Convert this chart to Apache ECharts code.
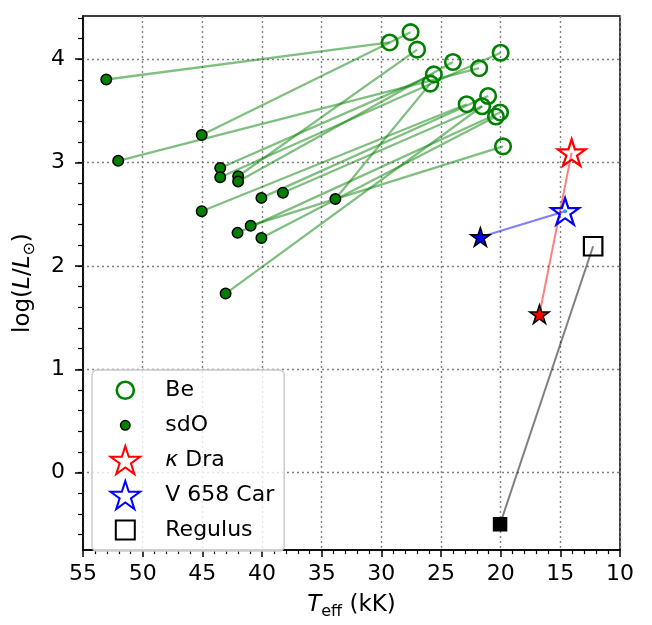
<!DOCTYPE html>
<html>
<head>
<meta charset="utf-8">
<script src="https://cdn.jsdelivr.net/npm/echarts@6/dist/echarts.min.js"></script>
<style>
  html, body { margin: 0; padding: 0; background: #fff; }
  #chart { width: 652px; height: 625px; }
</style>
</head>
<body>
<div id="chart"></div>
<script>
// Be stars (Teff in kK, log L/Lsun)
var beTeff = [29.3, 27.55, 27.0, 24.0, 25.6, 25.9, 21.8, 20.0, 22.85, 21.05, 21.55, 20.05, 20.4, 19.8];
var beLogL = [4.16, 4.26, 4.09, 3.97, 3.85, 3.76, 3.91, 4.06, 3.56, 3.64, 3.54, 3.48, 3.44, 3.15];
// sdO companions, and the index of the Be star each one belongs to
var sdoTeff = [53.05, 52.05, 45.05, 43.5, 43.5, 42.0, 42.0, 40.05, 38.25, 45.05, 40.95, 42.05, 40.05, 33.85, 43.05];
var sdoLogL = [3.80, 3.01, 3.26, 2.94, 2.85, 2.86, 2.81, 2.65, 2.70, 2.52, 2.38, 2.31, 2.26, 2.64, 1.72];
var sdoToBe = [0, 6, 1, 4, 7, 2, 3, 9, 10, 8, 13, 11, 12, 5, 10];
// [primary, companion]
var kapDraTeff = [14.05, 16.75];
var kapDraLogL = [3.09, 1.52];
var v658Teff = [14.6, 21.7];
var v658LogL = [2.52, 2.27];
var regulusTeff = [12.25, 20.05];
var regulusLogL = [2.18, -0.52];

var xMin = 10, xMax = 55;
var yMin = -0.772, yMax = 4.417;

var FONT = 'DejaVu Sans';
var FS = 22;
var plotTop = 16, plotBottom = 552.5;
function yPx(v) { return plotTop + (yMax - v) / (yMax - yMin) * (plotBottom - plotTop); }

function starPath(cx, cy, R) {
    var s = '';
    for (var k = 0; k < 10; k++) {
        var a = (-90 + 36 * k) * Math.PI / 180;
        var r = k % 2 ? R * 0.381966 : R;
        s += (k ? 'L' : 'M') + (cx + r * Math.cos(a)).toFixed(2) + ' ' + (cy + r * Math.sin(a)).toFixed(2);
    }
    return s + 'Z';
}
var STAR = 'path://' + starPath(0, 0, 1);
var BOX = 'path://M0 0M34 30';

var chart = echarts.init(document.getElementById('chart'));

var links = sdoTeff.map(function (t, i) {
    var b = sdoToBe[i];
    return { coords: [[t, sdoLogL[i]], [beTeff[b], beLogL[b]]] };
});

function pts(xs, ys) { return xs.map(function (x, i) { return [x, ys[i]]; }); }

function pair(name, xs, ys, color, symbol, openSize, fillSize) {
    return [{
        name: name + ' track', type: 'lines', coordinateSystem: 'cartesian2d', z: 5,
        data: [{ coords: [[xs[1], ys[1]], [xs[0], ys[0]]] }],
        lineStyle: { color: color, width: 2, opacity: 0.5 }
    }, {
        name: name, type: 'scatter', symbol: symbol, symbolSize: openSize, z: 6,
        itemStyle: { color: 'transparent', borderColor: color, borderWidth: 2.2, opacity: 1 },
        data: [
            { value: [xs[0], ys[0]] },
            { value: [xs[1], ys[1]], symbolSize: fillSize,
              itemStyle: { color: color, borderColor: '#000', borderWidth: 1.5, opacity: 1 } }
        ]
    }];
}

var series = [{
    name: 'links', type: 'lines', coordinateSystem: 'cartesian2d', z: 2,
    data: links,
    lineStyle: { color: '#008000', width: 2.3, opacity: 0.5 }
}, {
    name: 'Be', type: 'scatter', symbol: 'circle', symbolSize: 15.5, z: 3,
    itemStyle: { color: 'transparent', borderColor: '#008000', borderWidth: 2.6, opacity: 1 },
    data: pts(beTeff, beLogL)
}, {
    name: 'sdO', type: 'scatter', symbol: 'circle', symbolSize: 10.5, z: 4,
    itemStyle: { color: '#008000', borderColor: '#000', borderWidth: 1.5, opacity: 1 },
    data: pts(sdoTeff, sdoLogL)
}];
series = series.concat(
    pair('κ Dra', kapDraTeff, kapDraLogL, '#ff0000', STAR, [28, 26.6], [19.5, 18.5]),
    pair('V 658 Car', v658Teff, v658LogL, '#0000ff', STAR, [28, 26.6], [19.5, 18.5]),
    pair('Regulus', regulusTeff, regulusLogL, '#000000', 'rect', 18.5, 13)
);
series.push({
    name: 'dot', type: 'scatter', symbol: 'circle', symbolSize: 4, z: 7,
    itemStyle: { color: '#2a9fd6', opacity: 1 }, data: [[v658Teff[0], v658LogL[0]]]
});

var richName = {
    i: { fontFamily: FONT, fontSize: 23, fontStyle: 'italic', lineHeight: 30, color: '#000' },
    s: { fontFamily: FONT, fontSize: 16, lineHeight: 15, verticalAlign: 'bottom', color: '#000' },
    n: { fontFamily: FONT, fontSize: 23, lineHeight: 30, color: '#000' }
};

function gridLine() { return { show: true, lineStyle: { color: '#808080', type: [2, 3], width: 1.4 } }; }
function tickText(margin) { return { margin: margin, fontFamily: FONT, fontSize: FS, color: '#000' }; }

var option = {
    animation: false,
    grid: [
        { left: 82, right: 32, top: plotTop, bottom: 625 - plotBottom, show: true, borderColor: '#000', borderWidth: 1.5, backgroundColor: 'transparent' },
        { left: 82, right: 32, top: yPx(4), bottom: 625 - yPx(0) },
        { left: 82, right: 32, top: yPx(4.4), bottom: 625 - yPx(-0.6) }
    ],
    xAxis: [{
        type: 'value', gridIndex: 0, min: xMin, max: xMax, interval: 5, inverse: true,
        axisLine: { show: true, onZero: false, lineStyle: { color: '#000', width: 1.5 } },
        axisTick: { show: true, length: 7, lineStyle: { color: '#000', width: 1.5 } },
        minorTick: { show: true, splitNumber: 5, length: 4, lineStyle: { color: '#000', width: 1.2 } },
        axisLabel: tickText(13),
        splitLine: gridLine(),
        name: '{i|T}{s|eff}{n| (kK)}', nameLocation: 'middle', nameGap: 38,
        nameTextStyle: { fontFamily: FONT, fontSize: 23, color: '#000', lineHeight: 30, rich: richName }
    }, {
        type: 'value', gridIndex: 1, min: xMin, max: xMax, inverse: true, show: false
    }, {
        type: 'value', gridIndex: 2, min: xMin, max: xMax, inverse: true, show: false
    }],
    yAxis: [{
        type: 'value', gridIndex: 0, min: yMin, max: yMax,
        axisLine: { show: true, onZero: false, lineStyle: { color: '#000', width: 1.5 } },
        axisTick: { show: false }, axisLabel: { show: false }, splitLine: { show: false },
        name: '{n|log(}{i|L}{n|/}{i|L}{s|⊙}{n|)}', nameLocation: 'middle', nameRotate: 90, nameGap: 45,
        nameTextStyle: { fontFamily: FONT, fontSize: 23, color: '#000', lineHeight: 30, rich: richName }
    }, {
        type: 'value', gridIndex: 1, min: 0, max: 4, interval: 1,
        axisLine: { show: false, onZero: false },
        axisTick: { show: true, length: 7, lineStyle: { color: '#000', width: 1.5 } },
        axisLabel: tickText(17),
        splitLine: gridLine()
    }, {
        type: 'value', gridIndex: 2, min: -0.6, max: 4.4, interval: 0.2,
        axisLine: { show: false, onZero: false },
        axisTick: { show: true, length: 4, lineStyle: { color: '#000', width: 1.2 } },
        axisLabel: { show: false }, splitLine: { show: false }
    }],
    legend: {
        orient: 'vertical', left: 92, top: 370,
        padding: [4, 10, 5, 15], itemWidth: 34, itemHeight: 30, itemGap: 3,
        backgroundColor: 'rgba(255,255,255,0.8)', borderColor: '#cccccc', borderWidth: 1.5, borderRadius: 5,
        selectedMode: false,
        textStyle: {
            fontFamily: FONT, fontSize: FS, color: '#000',
            rich: {
                p: { fontFamily: FONT, fontSize: FS, color: '#000', padding: [0, 0, 0, 18] },
                k: { fontFamily: FONT, fontSize: FS, color: '#000', fontStyle: 'italic', padding: [0, 0, 0, 18] },
                t: { fontFamily: FONT, fontSize: FS, color: '#000' }
            }
        },
        formatter: function (name) {
            if (name === 'κ Dra') return '{k|κ}{t| Dra}';
            return '{p|' + name + '}';
        },
        data: [
            { name: 'Be', icon: BOX + 'M8.5 15a8.5 8.5 0 1 0 17 0a8.5 8.5 0 1 0 -17 0Z',
              itemStyle: { color: 'transparent', borderColor: '#008000', borderWidth: 2.6, opacity: 1 } },
            { name: 'sdO', icon: BOX + 'M12.25 15a4.75 4.75 0 1 0 9.5 0a4.75 4.75 0 1 0 -9.5 0Z',
              itemStyle: { color: '#008000', borderColor: '#000', borderWidth: 1.5, opacity: 1 } },
            { name: 'κ Dra', icon: BOX + starPath(17, 16.5, 15.5),
              itemStyle: { color: 'transparent', borderColor: '#ff0000', borderWidth: 2, opacity: 1 } },
            { name: 'V 658 Car', icon: BOX + starPath(17, 16.5, 15.5),
              itemStyle: { color: 'transparent', borderColor: '#0000ff', borderWidth: 2, opacity: 1 } },
            { name: 'Regulus', icon: BOX + 'M7.5 5.5h19v19h-19Z',
              itemStyle: { color: 'transparent', borderColor: '#000', borderWidth: 2, opacity: 1 } }
        ]
    },
    series: series
};
chart.setOption(option);
</script>
</body>
</html>
